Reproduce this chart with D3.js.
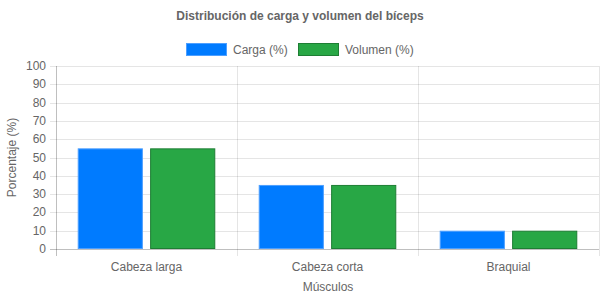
<!DOCTYPE html>
<html>
<head>
<meta charset="utf-8">
<script src="https://cdn.jsdelivr.net/npm/d3@7"></script>
<style>
  body { margin: 0; background: #fff; }
  svg text { font-family: "Liberation Sans", Arial, Helvetica, sans-serif; fill: #666; }
</style>
</head>
<body>
<div id="chart"></div>
<script>
// chart data
const categories = ["Cabeza larga", "Cabeza corta", "Braquial"];
const seriesNames = ["Carga (%)", "Volumen (%)"];
const carga = [55, 35, 10];
const volumen = [55, 35, 10];
const yTicks = [0, 10, 20, 30, 40, 50, 60, 70, 80, 90, 100];
const colors = ["#007bff", "#28a745"];
const borders = ["#4d9fff", "#1e7e34"];

const w = 600, h = 300;
const plotLeft = 56, plotRight = 599, plotTop = 66, plotBottom = 249;

const svg = d3.select("#chart").append("svg").attr("width", w).attr("height", h);

const x = d3.scaleBand().domain(categories).range([plotLeft, plotRight]).paddingInner(0.2).paddingOuter(0.1);
const xs = d3.scaleBand().domain(seriesNames).range([0, x.bandwidth()]).paddingInner(0.1).paddingOuter(0.05);
const y = d3.scaleLinear().domain([0, 100]).range([plotBottom, plotTop]);

// horizontal grid + ticks
svg.append("g").selectAll("line").data(yTicks).enter().append("line")
  .attr("x1", plotLeft - 6).attr("x2", plotRight)
  .attr("y1", d => Math.round(y(d)) + 0.5).attr("y2", d => Math.round(y(d)) + 0.5)
  .attr("stroke", d => d === 0 ? "rgba(0,0,0,0.25)" : "rgba(0,0,0,0.1)");

// vertical grid lines on category edges
const edges = categories.map(c => x(c) - x.step() * 0.1).concat([plotRight]);
svg.append("g").selectAll("line").data(edges).enter().append("line")
  .attr("x1", d => Math.round(d) + 0.5).attr("x2", d => Math.round(d) + 0.5)
  .attr("y1", plotTop).attr("y2", plotBottom + 7)
  .attr("stroke", (d, i) => i === 0 ? "rgba(0,0,0,0.25)" : "rgba(0,0,0,0.1)");

// y tick labels
svg.append("g").selectAll("text").data(yTicks).enter().append("text")
  .attr("x", plotLeft - 10).attr("y", d => y(d) + 4)
  .attr("text-anchor", "end").attr("font-size", 12)
  .text(d => d);

// x tick labels
svg.append("g").selectAll("text").data(categories).enter().append("text")
  .attr("x", d => x(d) + x.bandwidth() / 2).attr("y", 271)
  .attr("text-anchor", "middle").attr("font-size", 12)
  .text(d => d);

// bars
const values = [carga, volumen];
const groups = svg.append("g").selectAll("g").data(categories).enter().append("g")
  .attr("transform", d => "translate(" + x(d) + ",0)");
groups.selectAll("rect")
  .data((c, ci) => seriesNames.map((s, si) => ({ s: s, si: si, v: values[si][ci] })))
  .enter().append("rect")
  .attr("x", d => xs(d.s) + 0.5)
  .attr("y", d => y(d.v) + 0.5)
  .attr("width", xs.bandwidth() - 1)
  .attr("height", d => y(0) - y(d.v) - 1)
  .attr("fill", d => colors[d.si])
  .attr("stroke", d => borders[d.si])
  .attr("stroke-width", 1);

// title
svg.append("text").attr("x", 300).attr("y", 20).attr("text-anchor", "middle")
  .attr("font-size", 12).attr("font-weight", "bold").text("Distribución de carga y volumen del bíceps");

// legend
const legendX = [186, 298];
const legend = svg.append("g").selectAll("g").data(seriesNames).enter().append("g")
  .attr("transform", (d, i) => "translate(" + legendX[i] + ",43)");
legend.append("rect").attr("x", 0.5).attr("y", 0.5).attr("width", 40).attr("height", 12)
  .attr("fill", (d, i) => colors[i]).attr("stroke", (d, i) => borders[i]);
legend.append("text").attr("x", 47).attr("y", 11).attr("font-size", 12).text(d => d);

// axis titles
svg.append("text").attr("x", 328).attr("y", 291).attr("text-anchor", "middle")
  .attr("font-size", 12).text("Músculos");
svg.append("text").attr("transform", "translate(16," + ((plotTop + plotBottom) / 2) + ") rotate(-90)")
  .attr("text-anchor", "middle").attr("font-size", 12).text("Porcentaje (%)");
</script>
</body>
</html>
